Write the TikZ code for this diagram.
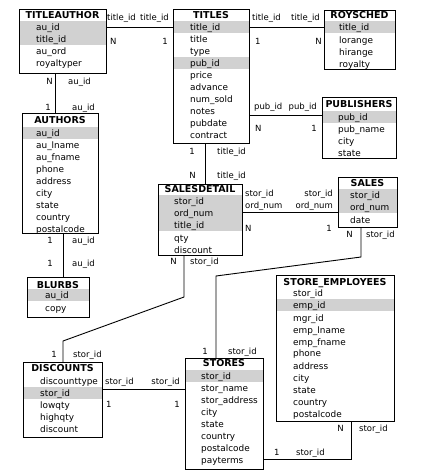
\documentclass[tikz,border=0pt]{standalone}
\usepackage{fontspec}
\setmainfont{DejaVu Sans}
\begin{document}
\begin{tikzpicture}[x=1pt,y=-1pt,
  tbl/.style={draw, line width=0.9pt, anchor=north west, inner sep=0pt, fill=none},
  shd/.style={fill=black!18},
  fld/.style={anchor=base west, inner sep=0pt, font=\fontsize{8.9}{10}\selectfont},
  lblw/.style={anchor=base west, inner sep=0pt, font=\fontsize{8.5}{10}\selectfont},
  lble/.style={anchor=base east, inner sep=0pt, font=\fontsize{8.5}{10}\selectfont},
  ttl/.style={anchor=base, inner sep=0pt, font=\bfseries\fontsize{9.5}{11}\selectfont},
  conn/.style={line width=0.9pt}]
\useasboundingbox (0,0) rectangle (421,475);

% ---------- shading ----------
\fill[shd] (19,21) rectangle (106,45);          % TITLEAUTHOR
\fill[shd] (173,21) rectangle (249,33);         % TITLES title_id
\fill[shd] (173,57) rectangle (249,69);         % TITLES pub_id
\fill[shd] (324,21) rectangle (395,33);         % ROYSCHED
\fill[shd] (322,111) rectangle (396,123);       % PUBLISHERS
\fill[shd] (22,127) rectangle (98,139);         % AUTHORS
\fill[shd] (158,195) rectangle (242,231);       % SALESDETAIL
\fill[shd] (338,189) rectangle (397,213);       % SALES
\fill[shd] (27,289) rectangle (89,301);         % BLURBS
\fill[shd] (23,387) rectangle (102,399);        % DISCOUNTS
\fill[shd] (185,370) rectangle (263,382);       % STORES
\fill[shd] (276,299) rectangle (394,311);       % STORE_EMPLOYEES

% ---------- boxes ----------
\node[tbl, minimum width=87pt, minimum height=64pt] (titleauthor) at (19,9) {};
\node[ttl] (titleauthorT) at (62.5,18.5) {TITLEAUTHOR};
\node[fld] (ta1) at (36,30) {au\_id};
\node[fld] (ta2) at (36,42) {title\_id};
\node[fld] (ta3) at (36,54) {au\_ord};
\node[fld] (ta4) at (36,66) {royaltyper};

\node[tbl, minimum width=76pt, minimum height=134pt] (titles) at (173,9) {};
\node[ttl] (titlesT) at (211,18.5) {TITLES};
\node[fld] (ti1) at (190,30) {title\_id};
\node[fld] (ti2) at (190,42) {title};
\node[fld] (ti3) at (190,54) {type};
\node[fld] (ti4) at (190,66) {pub\_id};
\node[fld] (ti5) at (190,78) {price};
\node[fld] (ti6) at (190,90) {advance};
\node[fld] (ti7) at (190,102) {num\_sold};
\node[fld] (ti8) at (190,114) {notes};
\node[fld] (ti9) at (190,126) {pubdate};
\node[fld] (ti10) at (190,138) {contract};

\node[tbl, minimum width=71pt, minimum height=59pt] (roysched) at (324,10) {};
\node[ttl] (royschedT) at (359.5,18.5) {ROYSCHED};
\node[fld] (ro1) at (339,30) {title\_id};
\node[fld] (ro2) at (339,43) {lorange};
\node[fld] (ro3) at (339,55) {hirange};
\node[fld] (ro4) at (339,67) {royalty};

\node[tbl, minimum width=74pt, minimum height=61pt] (publishers) at (322,97) {};
\node[ttl] (publishersT) at (359,107.5) {PUBLISHERS};
\node[fld] (pu1) at (338,120) {pub\_id};
\node[fld] (pu2) at (338,132) {pub\_name};
\node[fld] (pu3) at (338,144) {city};
\node[fld] (pu4) at (338,156) {state};

\node[tbl, minimum width=76pt, minimum height=120pt] (authors) at (22,113) {};
\node[ttl] (authorsT) at (60,123.5) {AUTHORS};
\node[fld] (au1) at (36,136) {au\_id};
\node[fld] (au2) at (36,148) {au\_lname};
\node[fld] (au3) at (36,160) {au\_fname};
\node[fld] (au4) at (36,172) {phone};
\node[fld] (au5) at (36,184) {address};
\node[fld] (au6) at (36,196) {city};
\node[fld] (au7) at (36,208) {state};
\node[fld] (au8) at (36,220) {country};
\node[fld] (au9) at (36,232) {postalcode};

\node[tbl, minimum width=84pt, minimum height=71pt] (salesdetail) at (158,184) {};
\node[ttl] (salesdetailT) at (200,192) {SALESDETAIL};
\node[fld] (sd1) at (174,204) {stor\_id};
\node[fld] (sd2) at (174,216) {ord\_num};
\node[fld] (sd3) at (174,228) {title\_id};
\node[fld] (sd4) at (174,241) {qty};
\node[fld] (sd5) at (174,253) {discount};

\node[tbl, minimum width=59pt, minimum height=50pt] (sales) at (338,177) {};
\node[ttl] (salesT) at (367.5,186.5) {SALES};
\node[fld] (sa1) at (350,198) {stor\_id};
\node[fld] (sa2) at (350,210) {ord\_num};
\node[fld] (sa3) at (350,223) {date};

\node[tbl, minimum width=62pt, minimum height=40pt] (blurbs) at (27,277) {};
\node[ttl] (blurbsT) at (58,288.5) {BLURBS};
\node[fld] (bl1) at (45,298) {au\_id};
\node[fld] (bl2) at (45,311) {copy};

\node[tbl, minimum width=79pt, minimum height=75pt] (discounts) at (23,362) {};
\node[ttl] (discountsT) at (62.5,371.5) {DISCOUNTS};
\node[fld] (di1) at (40,384) {discounttype};
\node[fld] (di2) at (40,396) {stor\_id};
\node[fld] (di3) at (40,408) {lowqty};
\node[fld] (di4) at (40,420) {highqty};
\node[fld] (di5) at (40,432) {discount};

\node[tbl, minimum width=78pt, minimum height=111pt] (stores) at (185,358) {};
\node[ttl] (storesT) at (224,366.5) {STORES};
\node[fld] (st1) at (201,379) {stor\_id};
\node[fld] (st2) at (201,391) {stor\_name};
\node[fld] (st3) at (201,403) {stor\_address};
\node[fld] (st4) at (201,415) {city};
\node[fld] (st5) at (201,427) {state};
\node[fld] (st6) at (201,439) {country};
\node[fld] (st7) at (201,451) {postalcode};
\node[fld] (st8) at (201,463) {payterms};

\node[tbl, minimum width=118pt, minimum height=146pt] (storeemp) at (276,275) {};
\node[ttl] (storeempT) at (335,285) {STORE\_EMPLOYEES};
\node[fld] (se1) at (293,296) {stor\_id};
\node[fld] (se2) at (293,308) {emp\_id};
\node[fld] (se3) at (293,321) {mgr\_id};
\node[fld] (se4) at (293,333) {emp\_lname};
\node[fld] (se5) at (293,345) {emp\_fname};
\node[fld] (se6) at (293,356) {phone};
\node[fld] (se7) at (293,369) {address};
\node[fld] (se8) at (293,381) {city};
\node[fld] (se9) at (293,393) {state};
\node[fld] (se10) at (293,405) {country};
\node[fld] (se11) at (293,417) {postalcode};

% ---------- bend coordinates ----------
\coordinate (sdA) at (184,297);
\coordinate (sdB) at (63,341);
\coordinate (saA) at (361,257);
\coordinate (saB) at (216,276);
\coordinate (seA) at (351,459);

% ---------- connectors ----------
\draw[conn] (titleauthor.east |- 0,27) -- (titles.west |- 0,27);
\draw[conn] (titleauthor.south -| 55,0) -- (authors.north -| 55,0);
\draw[conn] (titles.east |- 0,27) -- (roysched.west |- 0,27);
\draw[conn] (titles.east |- 0,115) -- (publishers.west |- 0,115);
\draw[conn] (titles.south -| 205,0) -- (salesdetail.north -| 205,0);
\draw[conn] (salesdetail.east |- 0,212) -- (sales.west |- 0,212);
\draw[conn] (salesdetail.south -| sdA) -- (sdA) -- (sdB) -- (discounts.north -| sdB);
\draw[conn] (sales.south -| saA) -- (saA) -- (saB) -- (stores.north -| saB);
\draw[conn] (discounts.east |- 0,389) -- (stores.west |- 0,389);
\draw[conn] (stores.east |- seA) -- (seA) -- (storeemp.south -| seA);
\draw[conn] (authors.south -| 63,0) -- (blurbs.north -| 63,0);

% ---------- connector labels ----------
\node[lblw] at (107,20) {title\_id};
\node[lble] at (169,20) {title\_id};
\node[lblw] at (110,44) {N};
\node[lble] at (168,44) {1};

\node[lble] at (53,84) {N};
\node[lblw] at (68,84) {au\_id};
\node[lble] at (51,110) {1};
\node[lblw] at (72,110) {au\_id};

\node[lblw] at (252,20) {title\_id};
\node[lble] at (320,20) {title\_id};
\node[lblw] at (255,44) {1};
\node[lble] at (322,44) {N};

\node[lblw] at (254,109) {pub\_id};
\node[lble] at (317,109) {pub\_id};
\node[lblw] at (255,131) {N};
\node[lble] at (317,131) {1};

\node[lble] at (195,154) {1};
\node[lblw] at (217,154) {title\_id};
\node[lble] at (196,178) {N};
\node[lblw] at (217,178) {title\_id};

\node[lblw] at (245,196) {stor\_id};
\node[lblw] at (245,208) {ord\_num};
\node[lble] at (333,196) {stor\_id};
\node[lble] at (333,208) {ord\_num};
\node[lblw] at (245,231) {N};
\node[lble] at (332,231) {1};

\node[lble] at (177,264) {N};
\node[lblw] at (190,264) {stor\_id};
\node[lble] at (57,357) {1};
\node[lblw] at (73,357) {stor\_id};

\node[lble] at (353,237) {N};
\node[lblw] at (366,237) {stor\_id};
\node[lble] at (208,354) {1};
\node[lblw] at (228,354) {stor\_id};

\node[lblw] at (105,384) {stor\_id};
\node[lble] at (180,384) {stor\_id};
\node[lblw] at (106,407) {1};
\node[lble] at (180,407) {1};

\node[lble] at (344,431) {N};
\node[lblw] at (359,431) {stor\_id};
\node[lblw] at (274,455) {1};
\node[lblw] at (296,455) {stor\_id};

\node[lble] at (53,243) {1};
\node[lblw] at (72,243) {au\_id};
\node[lble] at (53,266) {1};
\node[lblw] at (72,266) {au\_id};
\end{tikzpicture}
\end{document}
